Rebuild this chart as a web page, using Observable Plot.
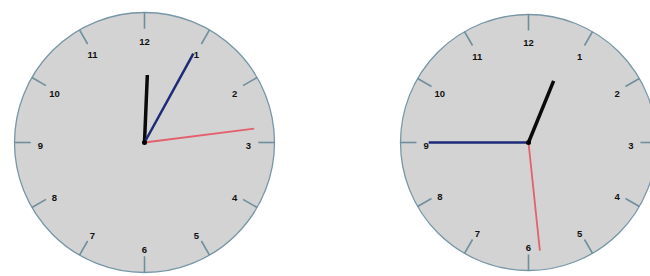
<!DOCTYPE html>
<html>
<head>
<meta charset="utf-8">
<script src="https://cdn.jsdelivr.net/npm/d3@7"></script>
<script src="https://cdn.jsdelivr.net/npm/@observablehq/plot@0.6"></script>
<style>
  html, body { margin: 0; padding: 0; background: #fff; overflow: hidden; }
  #chart svg { display: block; }
</style>
</head>
<body>
<div id="chart"></div>
<script>
// Data
const clockNames  = ["left", "right"];
const hourHand    = [12.08, 12.74];   // hour position (0-12)
const minuteHand  = [4.8, 45];        // minute position (0-60)
const secondHand  = [13.8, 29];       // second position (0-60)
const dialLabels  = ["12", "1", "2", "3", "4", "5", "6", "7", "8", "9", "10", "11"];

// Layout (not data)
const W = 650, H = 276;
const centersX = [144, 528];
const centerY = 142;
const radii = [130, 128];

function polar(i, frac, value, period) {
  const a = (value / period) * 2 * Math.PI;
  const r = radii[i] * frac;
  return {x: centersX[i] + r * Math.sin(a), y: centerY - r * Math.cos(a)};
}

const faces = clockNames.map((name, i) => ({name, x: centersX[i], y: centerY, r: radii[i]}));

const ticks = [];
const labels = [];
clockNames.forEach((name, i) => {
  dialLabels.forEach((lab, k) => {
    const p1 = polar(i, 0.875, k, 12);
    const p2 = polar(i, 1.0, k, 12);
    ticks.push({x1: p1.x, y1: p1.y, x2: p2.x, y2: p2.y});
    const p = polar(i, 0.80, k, 12);
    labels.push({x: p.x, y: p.y + 3, text: lab});
  });
});

const hands = [];
clockNames.forEach((name, i) => {
  const h = polar(i, 0.52, hourHand[i], 12);
  const m = polar(i, 0.78, minuteHand[i], 60);
  const s = polar(i, 0.85, secondHand[i], 60);
  hands.push({kind: "hour", x1: centersX[i], y1: centerY, x2: h.x, y2: h.y});
  hands.push({kind: "minute", x1: centersX[i], y1: centerY, x2: m.x, y2: m.y});
  hands.push({kind: "second", x1: centersX[i], y1: centerY, x2: s.x, y2: s.y});
});

const faceMarks = faces.map(f => Plot.dot([f], {x: "x", y: "y", r: f.r, fill: "#d3d3d3", stroke: "#7796a6", strokeWidth: 1.3}));

const chart = Plot.plot({
  width: W,
  height: H,
  margin: 0,
  style: {background: "transparent", overflow: "hidden"},
  x: {domain: [0, W], axis: null},
  y: {domain: [H, 0], axis: null},
  marks: [
    ...faceMarks,
    Plot.link(ticks, {x1: "x1", y1: "y1", x2: "x2", y2: "y2", stroke: "#6f8e9e", strokeWidth: 1.6}),
    Plot.text(labels, {x: "x", y: "y", text: "text", fontSize: 9.5, fontWeight: "bold", fill: "#111", fontFamily: "Liberation Sans, Arial, sans-serif"}),
    Plot.link(hands.filter(d => d.kind === "hour"), {x1: "x1", y1: "y1", x2: "x2", y2: "y2", stroke: "#0a0a0a", strokeWidth: 3.5}),
    Plot.link(hands.filter(d => d.kind === "minute"), {x1: "x1", y1: "y1", x2: "x2", y2: "y2", stroke: "#1c2a78", strokeWidth: 2.5}),
    Plot.link(hands.filter(d => d.kind === "second"), {x1: "x1", y1: "y1", x2: "x2", y2: "y2", stroke: "#e4606c", strokeWidth: 1.8}),
    Plot.dot(faces, {x: "x", y: "y", r: 2.5, fill: "#000"})
  ]
});
document.getElementById("chart").appendChild(chart);
</script>
</body>
</html>
